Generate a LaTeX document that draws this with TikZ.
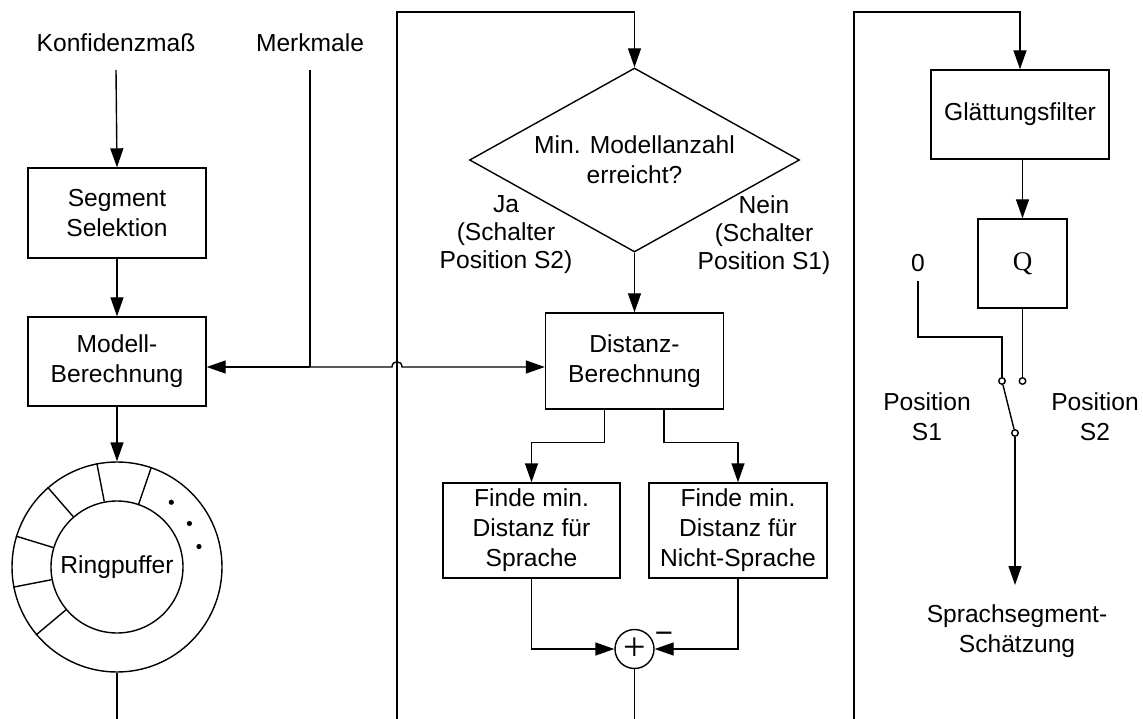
\documentclass[tikz,border=0pt]{standalone}
\usepackage{fontspec}
\setmainfont{Liberation Sans}
\newfontfamily\qfont{Liberation Serif}
\usetikzlibrary{arrows.meta,shapes.geometric,calc}

\begin{document}
\begin{tikzpicture}[x=1pt,y=-1pt,
  line width=1.4pt,
  txt/.style={font=\fontsize{24.6pt}{30pt}\selectfont, align=center, inner sep=0pt},
  blockbox/.style={txt, draw, rectangle},
  contact/.style={circle, draw, fill=white, minimum size=6.5pt, inner sep=0pt},
  arr/.style={-{Triangle[length=19pt,width=13pt]}},
]
\useasboundingbox (0,0) rectangle (1143,719);

% ---------- left column: segment selection and ring buffer ----------
\node[txt] (konf) at (116,43) {Konfidenzmaß};
\node[txt] (merk) at (310,43) {Merkmale};
\coordinate (konfOut) at (116,70);
\coordinate (merkOut) at (310,70);

\node[blockbox, minimum width=178pt, minimum height=90pt] (seg) at (117,213) {Segment\\Selektion};
\node[blockbox, minimum width=178pt, minimum height=89pt] (mod) at (117,361.5) {Modell-\\Berechnung};

\node[circle, draw, minimum size=210pt, inner sep=0pt] (ring) at (117,567) {};
\node[txt, circle, draw, minimum size=132pt] (rbuf) at (117,567) {Ringpuffer};
\foreach \a in {71.5,101,131,163,191,220}
  \draw (rbuf.\a) -- (ring.\a);
\foreach \a in {50,31,14}
  \fill ($(ring.center)+(\a:84.5pt)$) circle (2.6pt);
\coordinate (ringOut) at (117,719);

\draw[arr] (konfOut) -- (seg.north);
\draw[arr] (seg.south) -- (mod.north);
\draw[arr] (mod.south) -- (ring.north);
\draw (ring.south) -- (ringOut);

% ---------- feature bus ----------
\coordinate (junc) at (310,367);
\coordinate (busLb) at (397,719);
\coordinate (busLt) at (397,12);
\coordinate (hop) at (busLb |- junc);
\draw (merkOut) -- (junc);
\draw[arr] (junc) -- (mod.east |- junc);

% ---------- middle column: decision and distances ----------
\node[txt, diamond, draw, aspect=1.79, minimum width=330pt, minimum height=184pt] (dia) at (634.5,160) {Min. Modellanzahl\\erreicht?};
\node[txt, font=\fontsize{24.6pt}{28pt}\selectfont] (ja) at (506,235) {Ja\\(Schalter\\Position S2)};
\node[txt, font=\fontsize{24.6pt}{28pt}\selectfont] (nein) at (764,235) {Nein\\(Schalter\\Position S1)};

\node[blockbox, minimum width=178pt, minimum height=96pt] (dist) at (634.5,361) {Distanz-\\Berechnung};
\node[blockbox, minimum width=177pt, minimum height=95pt] (f1) at (531.5,530.5) {Finde min.\\Distanz für\\Sprache};
\node[blockbox, minimum width=178pt, minimum height=95pt] (f2) at (738,530.5) {Finde min.\\Distanz für\\Nicht-Sprache};

\node[circle, draw, minimum size=39pt, inner sep=0pt, font=\qfont\fontsize{40pt}{40pt}\selectfont] (sum) at (634.5,649) {+};
\node[anchor=base, inner sep=0pt, font=\fontsize{31pt}{31pt}\selectfont] (minus) at (664,643) {−};
\coordinate (sumOut) at (634.5,719);

\draw[arr] (junc) -- ($(hop)+(-5,0)$)
  .. controls ($(hop)+(-5,-7)$) and ($(hop)+(5,-7)$) .. ($(hop)+(5,0)$)
  -- (dist.west |- junc);
\draw[arr] (busLb) -- (busLt) -| (dia.north);
\draw[arr] (dia.south) -- (dist.north);
\draw[arr] ([xshift=-30pt]dist.south) -- ++(0,33) -| (f1.north);
\draw[arr] ([xshift=29.5pt]dist.south) -- ++(0,33) -| (f2.north);
\draw[arr] (f1.south) |- (sum.west);
\draw[arr] (f2.south) |- (sum.east);
\draw (sum.south) -- (sumOut);

% ---------- right column: smoothing and switch ----------
\coordinate (busRb) at (854,719);
\coordinate (busRt) at (854,12);
\node[blockbox, minimum width=178pt, minimum height=89pt] (gl) at (1020,114.5) {Glättungsfilter};
\node[blockbox, minimum width=89pt, minimum height=89pt, font=\qfont\fontsize{27pt}{30pt}\selectfont] (q) at (1022.5,263.5) {Q};
\node[txt] (zero) at (918,263) {0};
\coordinate (zeroOut) at (918,281);
\coordinate (bend) at (1002,337);

\node[contact] (c1) at (1002,381) {};
\node[contact] (c2) at (1022.5,381) {};
\node[contact] (c3) at (1015,433) {};

\node[txt] (ps1) at (927,417) {Position\\S1};
\node[txt] (ps2) at (1095,417) {Position\\S2};
\node[txt] (est) at (1017,631) {Sprachsegment-\\Schätzung};
\coordinate (estTip) at (1015,585);

\draw[arr] (busRb) -- (busRt) -| (gl.north);
\draw[arr] (q.north |- gl.south) -- (q.north);
\draw (zeroOut) |- (bend) -- (c1.north);
\draw (q.south) -- (c2.north);
\draw (c1) -- (c3);
\draw[arr] (c3.south) -- (estTip);
\end{tikzpicture}
\end{document}
